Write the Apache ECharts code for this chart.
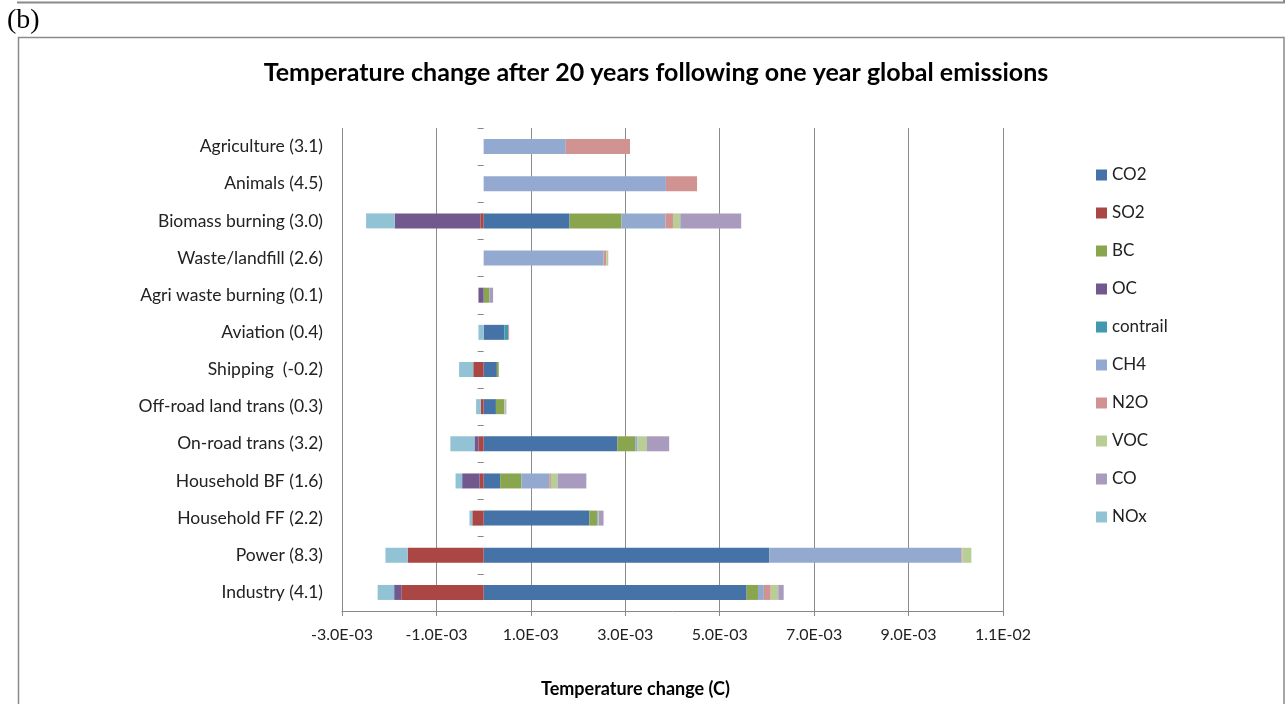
<!DOCTYPE html>
<html>
<head>
<meta charset="utf-8">
<script src="https://cdn.jsdelivr.net/npm/echarts@6/dist/echarts.min.js"></script>
<style>
  html, body { margin: 0; padding: 0; background: #fff; }
  #chart { width: 1285px; height: 704px; }
</style>
</head>
<body>
<div id="chart"></div>
<script>
// Sectors, top to bottom; the bracketed figure is the net warming (1e-3 C)
const sectors = [
  'Agriculture (3.1)', 'Animals (4.5)', 'Biomass burning (3.0)', 'Waste/landfill (2.6)',
  'Agri waste burning (0.1)', 'Aviation (0.4)', 'Shipping  (-0.2)', 'Off-road land trans (0.3)',
  'On-road trans (3.2)', 'Household BF (1.6)', 'Household FF (2.2)', 'Power (8.3)', 'Industry (4.1)'
];

// Temperature change (C) per species and sector
const co2      = [0, 0, 1.82e-3, 0, 0, 0.44e-3, 0.28e-3, 0.26e-3, 2.83e-3, 0.35e-3, 2.24e-3, 6.05e-3, 5.57e-3];
const so2      = [0, 0, -0.07e-3, 0, 0, 0, -0.22e-3, -0.06e-3, -0.11e-3, -0.085e-3, -0.24e-3, -1.61e-3, -1.745e-3];
const bc       = [0, 0, 1.10e-3, 0, 0.12e-3, 0, 0.04e-3, 0.18e-3, 0.38e-3, 0.45e-3, 0.16e-3, 0, 0.24e-3];
const oc       = [0, 0, -1.81e-3, 0, -0.11e-3, 0, 0, 0, -0.085e-3, -0.37e-3, 0, 0, -0.15e-3];
const contrail = [0, 0, 0, 0, 0, 0.08e-3, 0, 0, 0, 0, 0, 0, 0];
const ch4      = [1.74e-3, 3.86e-3, 0.93e-3, 2.54e-3, 0, 0, 0, 0, 0.05e-3, 0.59e-3, 0.02e-3, 4.07e-3, 0.125e-3];
const n2o      = [1.36e-3, 0.66e-3, 0.16e-3, 0.06e-3, 0, 0.02e-3, 0, 0, 0, 0.035e-3, 0, 0.02e-3, 0.145e-3];
const voc      = [0, 0, 0.155e-3, 0.04e-3, 0, 0, 0, 0.02e-3, 0.2e-3, 0.14e-3, 0.02e-3, 0.19e-3, 0.16e-3];
const co       = [0, 0, 1.29e-3, 0, 0.08e-3, 0, 0, 0.02e-3, 0.47e-3, 0.61e-3, 0.1e-3, 0, 0.115e-3];
const nox      = [0, 0, -0.61e-3, 0, 0, -0.11e-3, -0.30e-3, -0.10e-3, -0.51e-3, -0.14e-3, -0.06e-3, -0.47e-3, -0.35e-3];

const speciesNames = ['CO2', 'SO2', 'BC', 'OC', 'contrail', 'CH4', 'N2O', 'VOC', 'CO', 'NOx'];
const speciesData  = [co2, so2, bc, oc, contrail, ch4, n2o, voc, co, nox];
const speciesColors = ['#4572A7', '#AA4643', '#89A54E', '#71588F', '#4198AF',
                       '#93A9CF', '#D19392', '#B9CD96', '#A99BBD', '#92C3D4'];

// Axis range and step (C)
const xMin = -3e-3, xMax = 11e-3, xStep = 2e-3;

function sciLabel(v) {
  const s = Number(v).toExponential(1);          // e.g. "-3.0e-3"
  const m = s.match(/^(-?[\d.]+)e([+-])(\d+)$/);
  if (!m) return s;
  return m[1] + 'E' + m[2] + m[3].padStart(2, '0');
}

const font = 'Lato, "Open Sans", sans-serif';

const chart = echarts.init(document.getElementById('chart'), null, { renderer: 'canvas' });

chart.setOption({
  animation: false,
  backgroundColor: '#fff',
  textStyle: { fontFamily: font },
  title: {
    text: 'Temperature change after 20 years following one year global emissions',
    left: 651, top: 55, textAlign: 'center',
    textStyle: { fontFamily: font, fontSize: 25, fontWeight: 'bold', color: '#000' }
  },
  legend: {
    orient: 'vertical',
    left: 1091, top: 161,
    itemWidth: 11, itemHeight: 11, itemGap: 20,
    icon: 'rect',
    data: speciesNames,
    textStyle: { fontFamily: font, fontSize: 17, color: '#222', lineHeight: 18 },
    selectedMode: false
  },
  grid: { left: 342, right: 282, top: 128, bottom: 93, containLabel: false },
  xAxis: {
    type: 'value',
    min: xMin, max: xMax, interval: xStep,
    axisLine: { show: true, onZero: false, lineStyle: { color: '#888', width: 1 } },
    axisTick: { show: true, length: 5, lineStyle: { color: '#888' } },
    splitLine: { show: true, lineStyle: { color: '#8c8c8c', width: 1 } },
    axisLabel: { formatter: sciLabel, fontFamily: font, fontSize: 16, color: '#222', margin: 16 }
  },
  yAxis: [
    {
      type: 'category', data: sectors, inverse: true,
      axisLine: { show: false, onZero: false },
      axisTick: { show: false },
      splitLine: { show: false },
      axisLabel: { fontFamily: font, fontSize: 17.5, color: '#222', margin: 19 }
    },
    {
      // tick marks along the zero line
      type: 'category', data: sectors, inverse: true, position: 'left',
      axisLine: { show: false, onZero: true },
      axisTick: { show: true, length: 6, lineStyle: { color: '#888' } },
      axisLabel: { show: false },
      splitLine: { show: false }
    }
  ],
  series: speciesNames.map((name, i) => ({
    name: name,
    type: 'bar',
    stack: 'total',
    yAxisIndex: 0,
    barWidth: 15,
    itemStyle: { color: speciesColors[i] },
    data: speciesData[i]
  })),
  graphic: [
    { type: 'line', shape: { x1: 17, y1: 2.5, x2: 1285, y2: 2.5 }, style: { stroke: '#8a8a8a', lineWidth: 2 } },
    { type: 'line', shape: { x1: 1284, y1: 0, x2: 1284, y2: 3 }, style: { stroke: '#8a8a8a', lineWidth: 2 } },
    { type: 'rect', shape: { x: 18.5, y: 37.5, width: 1265.5, height: 700 }, style: { fill: 'none', stroke: '#8a8a8a', lineWidth: 1.5 } },
    { type: 'text', left: 7, top: 7, style: { text: '(b)', font: '28px "Liberation Serif", "DejaVu Serif", serif', fill: '#000' } },
    { type: 'text', left: 541, top: 680, style: { text: 'Temperature change (C)', font: 'bold 18px ' + font, fill: '#000' } }
  ]
});
</script>
</body>
</html>
